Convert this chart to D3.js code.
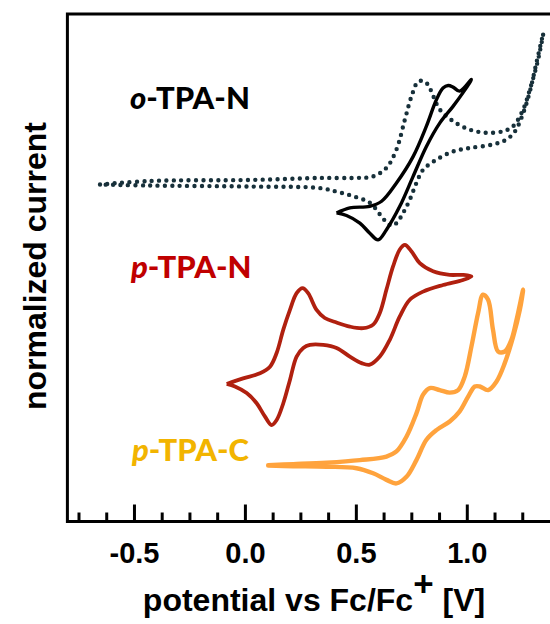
<!DOCTYPE html>
<html>
<head>
<meta charset="utf-8">
<script src="https://cdn.jsdelivr.net/npm/d3@7/dist/d3.min.js"></script>
<style>
  html, body { margin: 0; padding: 0; background: #fff; }
  svg { display: block; }
</style>
</head>
<body>
<svg id="chart" width="550" height="624"></svg>
<script>
// Cyclic voltammograms, [potential (V vs Fc/Fc+), normalized current (offset, a.u.)]
const oTpaNSolid = [
  [0.413, 60.8], [0.473, 61.8], [0.563, 62.1], [0.616, 63.1], [0.683, 66.7],
  [0.758, 71.9], [0.818, 77.9], [0.863, 83.1], [0.893, 85.4], [0.916, 85.9],
  [0.938, 85.6], [0.968, 84.8], [1.021, 87.1],
  [0.983, 84.5], [0.938, 81.8], [0.878, 78.5], [0.818, 73.9], [0.758, 68.0],
  [0.698, 62.1], [0.638, 57.5], [0.600, 55.5], [0.563, 56.8], [0.518, 58.8],
  [0.458, 60.3], [0.413, 60.8]
];

const oTpaNDotted = [
  [-0.653, 66.4], [-0.428, 67.1], [0.023, 67.3], [0.338, 67.7], [0.488, 67.7],
  [0.578, 68.0], [0.638, 69.7], [0.683, 73.3], [0.721, 79.2], [0.751, 83.8],
  [0.781, 86.7], [0.811, 86.7], [0.833, 85.4], [0.878, 81.2], [0.938, 78.9],
  [1.014, 77.2], [1.089, 76.6], [1.164, 76.9], [1.209, 77.9], [1.254, 81.2],
  [1.284, 85.1], [1.314, 89.7], [1.331, 93.0], [1.345, 96.2],
  [1.315, 90.6], [1.284, 84.7], [1.252, 80.2], [1.216, 76.8], [1.176, 75.2],
  [1.118, 74.3], [1.014, 73.6], [0.938, 72.9], [0.863, 71.3], [0.803, 69.3],
  [0.773, 66.7], [0.743, 63.4], [0.713, 60.8], [0.683, 58.8], [0.661, 58.3],
  [0.635, 59.1], [0.616, 60.1], [0.563, 62.8], [0.488, 64.1], [0.413, 65.0],
  [0.338, 65.7], [0.023, 66.0], [-0.428, 66.2], [-0.653, 66.4]
];

const pTpaN = [
  [-0.082, 27.1], [-0.008, 28.2], [0.068, 29.2], [0.113, 30.5], [0.143, 33.2],
  [0.173, 37.8], [0.203, 41.7], [0.233, 45.0], [0.260, 46.0], [0.285, 45.0],
  [0.323, 41.7], [0.360, 40.1], [0.413, 39.2], [0.473, 38.4], [0.533, 38.1],
  [0.578, 38.8], [0.608, 41.1], [0.638, 45.7], [0.668, 50.3], [0.698, 53.6],
  [0.721, 54.5], [0.751, 53.2], [0.788, 50.9], [0.848, 49.3], [0.923, 48.6],
  [0.983, 48.6], [1.021, 48.3],
  [0.983, 47.6], [0.893, 46.6], [0.803, 45.3], [0.743, 43.7], [0.698, 40.4],
  [0.653, 35.8], [0.608, 32.5], [0.563, 30.9], [0.526, 31.2], [0.473, 32.5],
  [0.413, 34.2], [0.353, 34.8], [0.293, 34.8], [0.263, 34.2], [0.233, 32.5],
  [0.203, 27.9], [0.173, 23.3], [0.143, 20.0], [0.120, 19.0], [0.090, 20.7],
  [0.053, 23.3], [0.008, 25.3], [-0.045, 26.6], [-0.082, 27.1]
];

const pTpaC = [
  [0.105, 11.1], [0.218, 11.3], [0.368, 11.6], [0.518, 12.1], [0.638, 12.8],
  [0.683, 13.8], [0.728, 16.7], [0.773, 21.3], [0.803, 25.0], [0.833, 26.3],
  [0.878, 25.9], [0.923, 25.4], [0.961, 25.9], [0.991, 28.6], [1.021, 34.5],
  [1.051, 41.1], [1.073, 44.7], [1.096, 43.7], [1.118, 37.8], [1.141, 33.5],
  [1.171, 33.5], [1.201, 35.8], [1.224, 39.7], [1.254, 45.7],
  [1.239, 41.7], [1.209, 36.4], [1.171, 31.2], [1.134, 27.6], [1.096, 25.9],
  [1.059, 26.6], [1.036, 26.6], [1.006, 24.6], [0.968, 21.7], [0.923, 19.7],
  [0.863, 18.0], [0.818, 16.1], [0.773, 12.1], [0.728, 8.8], [0.683, 7.5],
  [0.638, 8.2], [0.578, 9.5], [0.503, 10.5], [0.368, 10.8], [0.218, 10.9],
  [0.105, 11.0]
];

const majorTicks = [-0.5, 0.0, 0.5, 1.0];
const minorTicks = [-0.75, -0.625, -0.375, -0.25, -0.125, 0.125, 0.25, 0.375,
                    0.625, 0.75, 0.875, 1.125, 1.25];
const tickLabels = ["-0.5", "0.0", "0.5", "1.0"];

const seriesLabels = [
  { italic: "o", rest: "-TPA-N" },
  { italic: "p", rest: "-TPA-N" },
  { italic: "p", rest: "-TPA-C" }
];

// ---- layout ----
const svg = d3.select("#chart");
const plot = { left: 67.4, right: 550, top: 14, bottom: 521.5 };

const x = d3.scaleLinear().domain([-0.8, 1.375]).range([plot.left, plot.right]);
const y = d3.scaleLinear().domain([0, 100]).range([plot.bottom, plot.top]);

const line = d3.line()
  .x(d => x(d[0]))
  .y(d => y(d[1]))
  .curve(d3.curveCatmullRom.alpha(0.5));

// traces
svg.append("path").datum(oTpaNDotted)
  .attr("d", line)
  .attr("fill", "none")
  .attr("stroke", "#17303a")
  .attr("stroke-width", 4.4)
  .attr("stroke-linecap", "round")
  .attr("stroke-dasharray", "0 7.4");

svg.append("path").datum(oTpaNSolid)
  .attr("d", line)
  .attr("fill", "none")
  .attr("stroke", "#000")
  .attr("stroke-width", 3.4)
  .attr("stroke-linejoin", "round");

svg.append("path").datum(pTpaN)
  .attr("d", line)
  .attr("fill", "none")
  .attr("stroke", "#b0200f")
  .attr("stroke-width", 3.8)
  .attr("stroke-linejoin", "round");

svg.append("path").datum(pTpaC)
  .attr("d", line)
  .attr("fill", "none")
  .attr("stroke", "#ffa33d")
  .attr("stroke-width", 4.4)
  .attr("stroke-linejoin", "round")
  .attr("stroke-linecap", "round");

// frame (right side runs past the canvas edge)
svg.append("path")
  .attr("d", `M${plot.right + 3},${plot.top}H${plot.left}V${plot.bottom}H${plot.right + 3}`)
  .attr("fill", "none")
  .attr("stroke", "#000")
  .attr("stroke-width", 3);

// x axis: inward ticks
const axisMajor = d3.axisBottom(x)
  .tickValues(majorTicks)
  .tickSizeInner(-17)
  .tickSizeOuter(0)
  .tickFormat((d, i) => tickLabels[i]);

const gMajor = svg.append("g")
  .attr("transform", `translate(0,${plot.bottom})`)
  .call(axisMajor);
gMajor.select(".domain").remove();
gMajor.selectAll(".tick line").attr("stroke", "#000").attr("stroke-width", 3);
gMajor.selectAll(".tick text")
  .attr("y", 41.5)
  .attr("dy", 0)
  .attr("fill", "#000")
  .style("font-family", "'Liberation Sans', Arial, sans-serif")
  .style("font-weight", "bold")
  .style("font-size", "29px");

const axisMinor = d3.axisBottom(x)
  .tickValues(minorTicks)
  .tickSizeInner(-9)
  .tickSizeOuter(0)
  .tickFormat("");

const gMinor = svg.append("g")
  .attr("transform", `translate(0,${plot.bottom})`)
  .call(axisMinor);
gMinor.select(".domain").remove();
gMinor.selectAll(".tick line").attr("stroke", "#000").attr("stroke-width", 3);

// axis titles
const xTitle = svg.append("text")
  .attr("x", 314)
  .attr("y", 611)
  .attr("text-anchor", "middle")
  .style("font-family", "'Liberation Sans', Arial, sans-serif")
  .style("font-weight", "bold")
  .style("font-size", "32px")
  .attr("fill", "#000");
xTitle.append("tspan").text("potential vs Fc/Fc");
xTitle.append("tspan").attr("dy", -15).style("font-size", "35px").text("+");
xTitle.append("tspan").attr("dy", 15).text(" [V]");

svg.append("text")
  .attr("transform", "translate(46,266) rotate(-90)")
  .attr("text-anchor", "middle")
  .style("font-family", "'Liberation Sans', Arial, sans-serif")
  .style("font-weight", "bold")
  .style("font-size", "32px")
  .attr("fill", "#000")
  .text("normalized current");

// series labels
const labelPos = [
  { x: 130, y: 109, color: "#000000" },
  { x: 131, y: 278, color: "#c00000" },
  { x: 132, y: 461, color: "#f2b400" }
];
seriesLabels.forEach((s, i) => {
  const t = svg.append("text")
    .attr("x", labelPos[i].x)
    .attr("y", labelPos[i].y)
    .attr("fill", labelPos[i].color)
    .style("font-family", "Lato, 'Open Sans', sans-serif")
    .style("font-weight", "900")
    .style("font-size", "31px");
  t.append("tspan").style("font-style", "italic").text(s.italic);
  t.append("tspan").text(s.rest);
});
</script>
</body>
</html>
